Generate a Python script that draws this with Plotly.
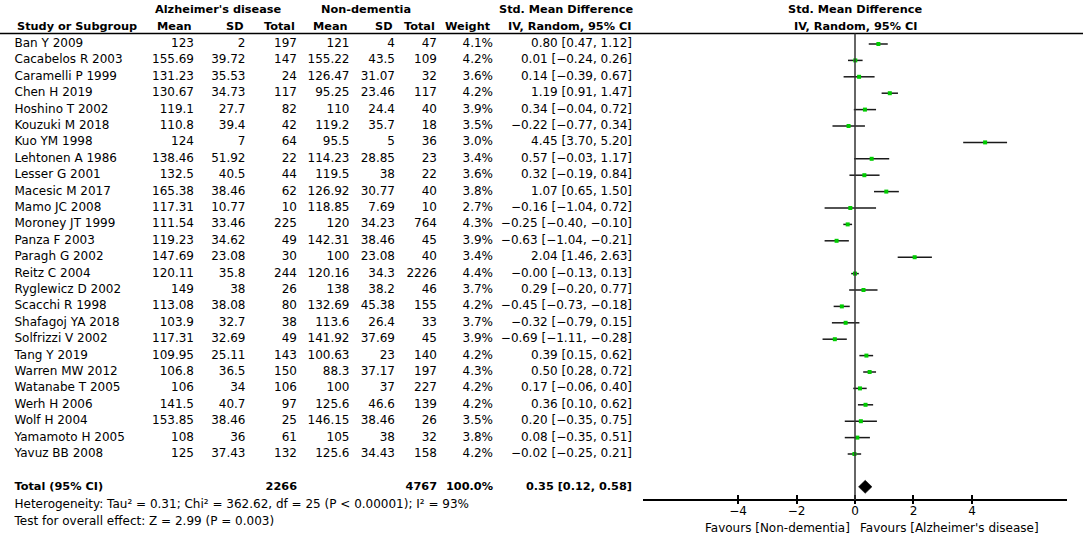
"""Forest plot: Alzheimer's disease vs non-dementia, std. mean difference."""

import plotly.graph_objects as go

STUDIES = [
    "Ban Y 2009", "Cacabelos R 2003", "Caramelli P 1999", "Chen H 2019",
    "Hoshino T 2002", "Kouzuki M 2018", "Kuo YM 1998", "Lehtonen A 1986",
    "Lesser G 2001", "Macesic M 2017", "Mamo JC 2008", "Moroney JT 1999",
    "Panza F 2003", "Paragh G 2002", "Reitz C 2004", "Ryglewicz D 2002",
    "Scacchi R 1998", "Shafagoj YA 2018", "Solfrizzi V 2002", "Tang Y 2019",
    "Warren MW 2012", "Watanabe T 2005", "Werh H 2006", "Wolf H 2004",
    "Yamamoto H 2005", "Yavuz BB 2008",
]
AD_MEAN = ["123", "155.69", "131.23", "130.67", "119.1", "110.8", "124", "138.46",
           "132.5", "165.38", "117.31", "111.54", "119.23", "147.69", "120.11", "149",
           "113.08", "103.9", "117.31", "109.95", "106.8", "106", "141.5", "153.85",
           "108", "125"]
AD_SD = ["2", "39.72", "35.53", "34.73", "27.7", "39.4", "7", "51.92",
         "40.5", "38.46", "10.77", "33.46", "34.62", "23.08", "35.8", "38",
         "38.08", "32.7", "32.69", "25.11", "36.5", "34", "40.7", "38.46",
         "36", "37.43"]
AD_N = [197, 147, 24, 117, 82, 42, 64, 22, 44, 62, 10, 225, 49, 30, 244, 26,
        80, 38, 49, 143, 150, 106, 97, 25, 61, 132]
ND_MEAN = ["121", "155.22", "126.47", "95.25", "110", "119.2", "95.5", "114.23",
           "119.5", "126.92", "118.85", "120", "142.31", "100", "120.16", "138",
           "132.69", "113.6", "141.92", "100.63", "88.3", "100", "125.6", "146.15",
           "105", "125.6"]
ND_SD = ["4", "43.5", "31.07", "23.46", "24.4", "35.7", "5", "28.85",
         "38", "30.77", "7.69", "34.23", "38.46", "23.08", "34.3", "38.2",
         "45.38", "26.4", "37.69", "23", "37.17", "37", "46.6", "38.46",
         "38", "34.43"]
ND_N = [47, 109, 32, 117, 40, 18, 36, 23, 22, 40, 10, 764, 45, 40, 2226, 46,
        155, 33, 45, 140, 197, 227, 139, 26, 32, 158]
WEIGHT = [4.1, 4.2, 3.6, 4.2, 3.9, 3.5, 3.0, 3.4, 3.6, 3.8, 2.7, 4.3, 3.9, 3.4,
          4.4, 3.7, 4.2, 3.7, 3.9, 4.2, 4.3, 4.2, 4.2, 3.5, 3.8, 4.2]
SMD = [0.80, 0.01, 0.14, 1.19, 0.34, -0.22, 4.45, 0.57, 0.32, 1.07, -0.16, -0.25,
       -0.63, 2.04, -0.0, 0.29, -0.45, -0.32, -0.69, 0.39, 0.50, 0.17, 0.36, 0.20,
       0.08, -0.02]
CI_LO = [0.47, -0.24, -0.39, 0.91, -0.04, -0.77, 3.70, -0.03, -0.19, 0.65, -1.04,
         -0.40, -1.04, 1.46, -0.13, -0.20, -0.73, -0.79, -1.11, 0.15, 0.28, -0.06,
         0.10, -0.35, -0.35, -0.25]
CI_HI = [1.12, 0.26, 0.67, 1.47, 0.72, 0.34, 5.20, 1.17, 0.84, 1.50, 0.72, -0.10,
         -0.21, 2.63, 0.13, 0.77, -0.18, 0.15, -0.28, 0.62, 0.72, 0.40, 0.62, 0.75,
         0.51, 0.21]

TOTAL_AD = 2266
TOTAL_ND = 4767
TOTAL_WEIGHT = 100.0
TOTAL_SMD, TOTAL_LO, TOTAL_HI = 0.35, 0.12, 0.58
HETEROGENEITY = "Heterogeneity: Tau² = 0.31; Chi² = 362.62, df = 25 (P < 0.00001); I² = 93%"
OVERALL = "Test for overall effect: Z = 2.99 (P = 0.003)"
AXIS_TICKS = [-4, -2, 0, 2, 4]

FONT = "DejaVu Sans"
FS = 12
FSB = 11.3  # bold runs wide in DejaVu
W, H = 1083, 535

# row geometry (row index -> pixel 44 + 16.4*i)
ROW0, ROWH = 44, 16.4
Y_TOP = -ROW0 / ROWH
Y_BOT = (H - ROW0) / ROWH
HDR1, HDR2, RULE = -2.11, -1.04, -0.64
TOTAL_ROW = len(STUDIES) + 1
AXIS_PX = 500
AXIS_ROW = (AXIS_PX - ROW0) / ROWH
FAVOURS_ROW = (528 - ROW0) / ROWH


def fmt(v):
    return f"{v:.2f}".replace("-", "−")


def ci_text(est, lo, hi):
    return f"{fmt(est)} [{fmt(lo)}, {fmt(hi)}]"


rows = list(range(len(STUDIES)))
fig = go.Figure()

# table columns: (x pixel, values, textposition)
columns = [
    (14.5, STUDIES, "middle right"),
    (194, AD_MEAN, "middle left"),
    (245.5, AD_SD, "middle left"),
    (297, [str(n) for n in AD_N], "middle left"),
    (349.5, ND_MEAN, "middle left"),
    (395, ND_SD, "middle left"),
    (437, [str(n) for n in ND_N], "middle left"),
    (493, [f"{w:.1f}%" for w in WEIGHT], "middle left"),
    (632, [ci_text(e, l, h) for e, l, h in zip(SMD, CI_LO, CI_HI)], "middle left"),
]
for x, vals, pos in columns:
    fig.add_trace(go.Scatter(
        x=[x] * len(vals), y=rows, text=vals, mode="text", textposition=pos,
        textfont=dict(family=FONT, size=FS, color="black"),
        hoverinfo="skip", showlegend=False,
    ))

# total row
total_cells = [
    (14.5, "Total (95% CI)", "middle right"),
    (297, str(TOTAL_AD), "middle left"),
    (437, str(TOTAL_ND), "middle left"),
    (493, f"{TOTAL_WEIGHT:.1f}%", "middle left"),
    (632, ci_text(TOTAL_SMD, TOTAL_LO, TOTAL_HI), "middle left"),
]
fig.add_trace(go.Scatter(
    x=[c[0] for c in total_cells], y=[TOTAL_ROW] * len(total_cells),
    text=[f"<b>{c[1]}</b>" for c in total_cells], mode="text",
    textposition=[c[2] for c in total_cells],
    textfont=dict(family=FONT, size=FSB, color="black"),
    hoverinfo="skip", showlegend=False,
))
fig.add_trace(go.Scatter(
    x=[14.5, 14.5], y=[28.1, 29.15], text=[HETEROGENEITY, OVERALL], mode="text",
    textposition="middle right", textfont=dict(family=FONT, size=FS, color="black"),
    hoverinfo="skip", showlegend=False,
))

# forest plot: CIs and point estimates
fig.add_trace(go.Scatter(
    x=SMD, y=rows, xaxis="x2", mode="markers",
    marker=dict(symbol="square", size=4, color="#00cc00"),
    error_x=dict(type="data", symmetric=False,
                 array=[h - e for e, h in zip(SMD, CI_HI)],
                 arrayminus=[e - l for e, l in zip(SMD, CI_LO)],
                 color="#1a1a1a", thickness=1.5, width=0),
    hoverinfo="skip", showlegend=False,
))
# pooled diamond
fig.add_trace(go.Scatter(
    x=[TOTAL_LO, TOTAL_SMD, TOTAL_HI, TOTAL_SMD, TOTAL_LO],
    y=[TOTAL_ROW, TOTAL_ROW - 0.4, TOTAL_ROW, TOTAL_ROW + 0.4, TOTAL_ROW],
    xaxis="x2", mode="lines", fill="toself", fillcolor="black",
    line=dict(color="black", width=0.5), hoverinfo="skip", showlegend=False,
))

# header text
hdr_font = dict(family=FONT, size=FSB, color="black")
headers = [
    (218.7, HDR1, "Alzheimer's disease", "center", "x"),
    (366, HDR1, "Non-dementia", "center", "x"),
    (566, HDR1, "Std. Mean Difference", "center", "x"),
    (0, HDR1, "Std. Mean Difference", "center", "x2"),
    (14.5, HDR2, "Study or Subgroup", "left", "x"),
    (194, HDR2, "Mean", "right", "x"),
    (245.5, HDR2, "SD", "right", "x"),
    (297, HDR2, "Total", "right", "x"),
    (349.5, HDR2, "Mean", "right", "x"),
    (395, HDR2, "SD", "right", "x"),
    (437, HDR2, "Total", "right", "x"),
    (493, HDR2, "Weight", "right", "x"),
    (569, HDR2, "IV, Random, 95% CI", "center", "x"),
    (0, HDR2, "IV, Random, 95% CI", "center", "x2"),
]
annotations = [
    dict(x=x, y=y, xref=xr, yref="y", text=f"<b>{t}</b>", xanchor=a,
         yanchor="middle", showarrow=False, font=hdr_font)
    for x, y, t, a, xr in headers
]
fav_font = dict(family=FONT, size=FS, color="black")
annotations += [
    dict(x=0, y=FAVOURS_ROW, xref="x2", yref="y", text="Favours [Non-dementia]",
         xanchor="right", xshift=-3, yanchor="middle", showarrow=False, font=fav_font),
    dict(x=0, y=FAVOURS_ROW, xref="x2", yref="y", text="Favours [Alzheimer's disease]",
         xanchor="left", xshift=3, yanchor="middle", showarrow=False, font=fav_font),
]

axis_pos = (H - AXIS_PX) / H
x2_domain = [643 / W, 1067 / W]
fig.update_layout(
    width=W, height=H,
    margin=dict(l=0, r=0, t=0, b=0),
    paper_bgcolor="white", plot_bgcolor="white",
    xaxis=dict(range=[0, W], domain=[0, 1], visible=False, fixedrange=True),
    xaxis2=dict(
        range=[-7.25, 7.25], domain=x2_domain, anchor="free",
        position=axis_pos, showline=True, linecolor="black", linewidth=1.5,
        ticks="inside", ticklen=4, tickwidth=1.5, tickcolor="black",
        tickvals=AXIS_TICKS, ticktext=[str(t).replace("-", "−") for t in AXIS_TICKS],
        tickfont=dict(family=FONT, size=FS, color="black"),
        showgrid=False, zeroline=False, fixedrange=True,
    ),
    # second copy of the axis just for the short tick stubs below the line
    xaxis3=dict(
        range=[-7.25, 7.25], domain=x2_domain, anchor="free", overlaying="x2",
        position=axis_pos, showline=False, ticks="outside", ticklen=3,
        tickwidth=1.5, tickcolor="black", tickvals=AXIS_TICKS, showticklabels=False,
        showgrid=False, zeroline=False, fixedrange=True,
    ),
    yaxis=dict(range=[Y_BOT, Y_TOP], visible=False, fixedrange=True),
    shapes=[
        dict(type="line", xref="paper", x0=0, x1=1, yref="y", y0=RULE, y1=RULE,
             line=dict(color="black", width=1.5)),
        dict(type="line", xref="x2", x0=0, x1=0, yref="y", y0=RULE, y1=AXIS_ROW,
             line=dict(color="#333", width=1.5)),
    ],
    annotations=annotations,
    showlegend=False,
)
# xaxis3 needs a trace to be drawn
fig.add_trace(go.Scatter(x=[TOTAL_SMD], y=[TOTAL_ROW], xaxis="x3", mode="none",
                         hoverinfo="skip", showlegend=False))

fig.write_html("out.html", config={"displayModeBar": False},
               post_script="document.body.style.margin='0px';")
